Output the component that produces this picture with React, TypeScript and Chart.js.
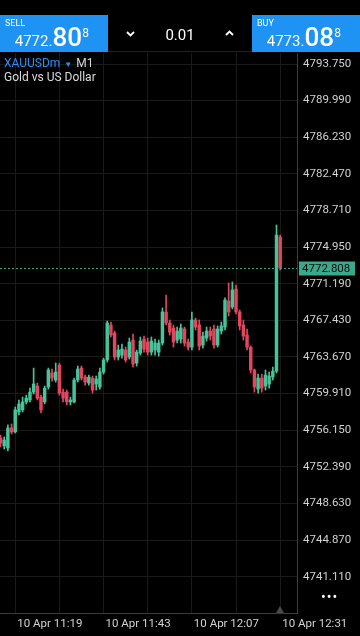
import React, { useEffect, useRef } from 'react';
import { Chart, registerables } from 'chart.js';

Chart.register(...registerables);

// ---- data (XAUUSDm, M1 candles 11:15 .. 12:31) ----
const opens = [
  4755.35, 4754.53, 4754.32, 4756.38, 4755.97, 4758.02, 4758.23, 4759.05, 4759.25, 4760.06,
  4760.68, 4759.55, 4759.05, 4760.58, 4762.02, 4761.30, 4762.84, 4760.06, 4760.06, 4759.05,
  4759.05, 4761.30, 4762.53, 4761.60, 4760.99, 4761.50, 4760.89, 4760.58, 4762.12, 4763.36,
  4766.95, 4766.13, 4763.66, 4763.86, 4764.38, 4763.66, 4765.41, 4763.05, 4764.07, 4765.51,
  4765.20, 4764.17, 4764.38, 4764.17, 4765.10, 4768.29, 4767.16, 4766.64, 4765.41, 4765.51,
  4766.54, 4765.20, 4764.68, 4767.47, 4766.95, 4764.89, 4765.61, 4766.33, 4766.54, 4764.89,
  4766.33, 4766.74, 4769.42, 4768.80, 4770.65, 4768.29, 4766.95, 4765.92, 4764.68, 4762.33,
  4760.37, 4761.50, 4760.68, 4760.89, 4761.60, 4762.22, 4775.99,
];
const highs = [
  4755.66, 4755.45, 4756.69, 4756.79, 4758.53, 4759.25, 4759.55, 4759.75, 4760.47, 4762.53,
  4760.99, 4759.75, 4760.68, 4762.53, 4762.43, 4763.05, 4763.05, 4760.37, 4760.27, 4759.55,
  4761.50, 4762.74, 4762.74, 4761.81, 4761.81, 4761.71, 4761.71, 4762.53, 4763.55, 4767.36,
  4767.26, 4766.33, 4764.89, 4764.99, 4764.68, 4765.61, 4766.02, 4764.38, 4765.72, 4765.82,
  4765.61, 4765.72, 4765.51, 4765.41, 4768.70, 4770.03, 4767.47, 4766.95, 4766.74, 4767.05,
  4766.74, 4765.51, 4768.29, 4767.67, 4767.47, 4766.23, 4766.74, 4766.74, 4766.95, 4766.85,
  4767.26, 4769.73, 4771.27, 4771.37, 4771.06, 4768.49, 4767.47, 4766.54, 4764.79, 4762.43,
  4761.91, 4761.91, 4762.33, 4762.12, 4762.63, 4777.22, 4776.19,
];
const lows = [
  4754.43, 4754.22, 4754.02, 4755.76, 4755.86, 4757.71, 4758.02, 4758.84, 4759.05, 4759.86,
  4759.25, 4757.92, 4758.84, 4760.37, 4761.19, 4761.09, 4759.75, 4759.05, 4758.74, 4758.74,
  4758.94, 4761.09, 4761.30, 4760.78, 4760.78, 4759.96, 4760.27, 4760.37, 4761.91, 4763.15,
  4765.72, 4763.36, 4763.36, 4763.55, 4763.15, 4763.45, 4762.63, 4762.74, 4763.86, 4764.17,
  4763.86, 4763.86, 4763.86, 4763.76, 4764.89, 4766.95, 4765.92, 4764.68, 4765.10, 4765.10,
  4764.79, 4764.38, 4764.38, 4766.44, 4764.38, 4764.58, 4765.30, 4765.41, 4764.58, 4764.68,
  4766.02, 4766.44, 4767.88, 4768.60, 4768.08, 4766.44, 4765.41, 4764.38, 4762.02, 4760.06,
  4759.96, 4760.06, 4760.27, 4760.47, 4761.30, 4762.02, 4772.60,
];
const closes = [
  4754.84, 4755.14, 4756.38, 4755.97, 4758.23, 4758.84, 4759.05, 4759.44, 4760.06, 4760.89,
  4759.44, 4758.23, 4760.47, 4762.33, 4761.50, 4762.12, 4759.96, 4759.44, 4759.05, 4759.25,
  4761.30, 4762.43, 4761.50, 4761.09, 4761.60, 4760.27, 4761.40, 4762.12, 4763.36, 4767.16,
  4765.92, 4763.66, 4764.38, 4764.48, 4763.36, 4765.20, 4762.94, 4764.17, 4765.30, 4764.48,
  4764.17, 4765.30, 4765.10, 4765.10, 4768.29, 4767.16, 4766.23, 4765.20, 4766.33, 4766.64,
  4765.10, 4764.68, 4767.47, 4766.74, 4764.79, 4765.82, 4766.33, 4765.82, 4764.89, 4766.54,
  4766.85, 4769.52, 4768.29, 4770.55, 4768.29, 4766.85, 4765.82, 4764.68, 4762.33, 4760.58,
  4761.50, 4760.47, 4761.81, 4761.71, 4762.22, 4776.19, 4772.81,
];

const priceTicks = [
  4741.11, 4744.87, 4748.63, 4752.39, 4756.15, 4759.91, 4763.67, 4767.43,
  4771.19, 4774.95, 4778.71, 4782.47, 4786.23, 4789.99, 4793.75,
];
const timeGridIndex = [4, 16, 28, 40, 52, 64, 76];
const timeLabelIndex = [4, 28, 52, 76];
const timeLabels = ['10 Apr 11:19', '10 Apr 11:43', '10 Apr 12:07', '10 Apr 12:31'];

const currentPrice = 4772.808;
const sellPrice = ['4772.', '80', '8'];
const buyPrice = ['4773.', '08', '8'];
const lotSize = '0.01';
const symbol = 'XAUUSDm';
const timeframe = 'M1';
const description = 'Gold vs US Dollar';

const Y_MIN = 4737.38;
const Y_MAX = 4794.88;
const X_MIN = -0.14;
const X_MAX = 80.57;

const UP = '#46c49c';
const DOWN = '#e2475f';
const TEAL = '#3aa98b';
const BLUE = '#1f93f3';
const FONT = 'Roboto, "Noto Sans", sans-serif';

const priceLinePlugin = {
  id: 'priceLine',
  afterDraw(chart: any) {
    const { ctx, chartArea, scales } = chart;
    const y = scales.y;
    const py = Math.round(y.getPixelForValue(currentPrice)) + 0.5;
    ctx.save();
    ctx.strokeStyle = TEAL;
    ctx.lineWidth = 1;
    ctx.setLineDash([2, 2]);
    ctx.beginPath();
    ctx.moveTo(chartArea.left, py);
    ctx.lineTo(chartArea.right, py);
    ctx.stroke();
    ctx.setLineDash([]);
    ctx.fillStyle = TEAL;
    ctx.fillRect(chartArea.right + 2, py - 7, 56, 14);
    ctx.fillStyle = '#0b0b0b';
    ctx.font = '11.5px ' + FONT;
    ctx.textAlign = 'left';
    ctx.textBaseline = 'middle';
    ctx.fillText(currentPrice.toFixed(3), chartArea.right + 5, py + 0.5);
    ctx.restore();
  },
};

function CandleChart() {
  const ref = useRef<HTMLCanvasElement | null>(null);
  useEffect(() => {
    if (!ref.current) return;
    const colors = opens.map((o, i) => (closes[i] >= o ? UP : DOWN));
    const wicks = opens.map((_, i) => ({ x: i, y: [lows[i], highs[i]] }));
    const bodies = opens.map((o, i) => ({ x: i, y: [o, closes[i]] }));
    const chart = new Chart(ref.current, {
      type: 'bar',
      data: {
        datasets: [
          {
            data: wicks as any,
            backgroundColor: colors,
            barThickness: 1,
            grouped: false,
            borderWidth: 0,
          } as any,
          {
            data: bodies as any,
            backgroundColor: colors,
            barThickness: 2.8,
            grouped: false,
            borderWidth: 0,
          } as any,
        ],
      },
      options: {
        animation: false,
        responsive: false,
        events: [],
        layout: { padding: { top: 53, left: 0, right: 0, bottom: 0 } },
        plugins: { legend: { display: false }, tooltip: { enabled: false } },
        scales: {
          x: {
            type: 'linear',
            min: X_MIN,
            max: X_MAX,
            offset: false,
            afterBuildTicks: (scale: any) => {
              scale.ticks = timeGridIndex.map((v) => ({ value: v }));
            },
            afterFit: (scale: any) => {
              scale.height = 23;
            },
            grid: { color: '#1a1a1a', drawTicks: false, offset: false },
            border: { display: true, color: '#3c3c3c' },
            ticks: {
              autoSkip: false,
              maxRotation: 0,
              align: 'start',
              padding: 4,
              labelOffset: 2,
              color: '#d2d2d2',
              font: { family: FONT, size: 11.5 },
              callback: (value: any) => {
                const k = timeLabelIndex.indexOf(Number(value));
                return k >= 0 ? timeLabels[k] : '';
              },
            },
          },
          y: {
            type: 'linear',
            position: 'right',
            min: Y_MIN,
            max: Y_MAX,
            afterBuildTicks: (scale: any) => {
              scale.ticks = priceTicks.map((v) => ({ value: v }));
            },
            afterFit: (scale: any) => {
              scale.width = 63;
            },
            grid: { color: '#1a1a1a', drawTicks: false },
            border: { display: true, color: '#3c3c3c' },
            ticks: {
              autoSkip: false,
              padding: 6,
              color: '#d2d2d2',
              font: { family: FONT, size: 11.5 },
              callback: (value: any) => Number(value).toFixed(3),
            },
          },
        },
      } as any,
      plugins: [priceLinePlugin],
    });
    return () => chart.destroy();
  }, []);
  return (
    <canvas
      ref={ref}
      width={360}
      height={636}
      style={{ position: 'absolute', left: 0, top: 0, width: 360, height: 636 }}
    />
  );
}

function Chevron({ up }: { up?: boolean }) {
  return (
    <svg width="9" height="6" viewBox="0 0 9 6" style={{ display: 'block' }}>
      <polyline
        points={up ? '1,5 4.5,1.5 8,5' : '1,1 4.5,4.5 8,1'}
        fill="none"
        stroke="#fff"
        strokeWidth="1.8"
      />
    </svg>
  );
}

function PriceBox({ label, parts, left }: { label: string; parts: string[]; left: number }) {
  return (
    <div
      style={{
        position: 'absolute',
        left,
        top: 15,
        width: 108,
        height: 37,
        background: BLUE,
        color: '#fff',
      }}
    >
      <div style={{ position: 'absolute', left: 5, top: 3, fontSize: 9 }}>{label}</div>
      <div
        style={{
          position: 'absolute',
          right: 26,
          top: 9,
          whiteSpace: 'nowrap',
          lineHeight: '27px',
        }}
      >
        <span style={{ fontSize: 15 }}>{parts[0]}</span>
        <span style={{ fontSize: 26, fontWeight: 500 }}>{parts[1]}</span>
        <span style={{ fontSize: 12, position: 'absolute', right: -7, top: 2, lineHeight: '14px' }}>
          {parts[2]}
        </span>
      </div>
    </div>
  );
}

export default function App() {
  return (
    <div
      style={{
        position: 'fixed',
        left: 0,
        top: 0,
        width: 360,
        height: 636,
        background: '#000',
        overflow: 'hidden',
        fontFamily: FONT,
      }}
    >
      <CandleChart />
      <PriceBox label="SELL" parts={sellPrice} left={0} />
      <PriceBox label="BUY" parts={buyPrice} left={252} />
      <div
        style={{
          position: 'absolute',
          left: 108,
          top: 15,
          width: 144,
          height: 37,
          borderBottom: '1px solid #222',
          boxSizing: 'border-box',
        }}
      >
        <div style={{ position: 'absolute', left: 18, top: 16 }}>
          <Chevron />
        </div>
        <div
          style={{
            position: 'absolute',
            left: 0,
            width: 144,
            top: 11,
            textAlign: 'center',
            color: '#fff',
            fontSize: 15,
          }}
        >
          {lotSize}
        </div>
        <div style={{ position: 'absolute', left: 117, top: 15 }}>
          <Chevron up />
        </div>
      </div>
      <div
        style={{
          position: 'absolute',
          left: 4,
          top: 56,
          fontSize: 12,
          lineHeight: '14px',
          whiteSpace: 'nowrap',
        }}
      >
        <span style={{ color: '#2f8ff2' }}>{symbol}</span>
        <span style={{ color: '#2f8ff2', fontSize: 8, margin: '0 4px 0 4px' }}>▼</span>
        <span style={{ color: '#d8d8d8' }}>{timeframe}</span>
      </div>
      <div
        style={{
          position: 'absolute',
          left: 4,
          top: 70,
          fontSize: 12,
          lineHeight: '14px',
          color: '#dcdcdc',
          whiteSpace: 'nowrap',
        }}
      >
        {description}
      </div>
      <div
        style={{
          position: 'absolute',
          left: 321,
          top: 590,
          color: '#fff',
          fontSize: 14,
          letterSpacing: 1,
          lineHeight: '14px',
        }}
      >
        •••
      </div>
      <div
        style={{
          position: 'absolute',
          left: 276,
          top: 606,
          width: 0,
          height: 0,
          borderLeft: '4px solid transparent',
          borderRight: '4px solid transparent',
          borderBottom: '7px solid #4a4a4a',
        }}
      />
    </div>
  );
}
